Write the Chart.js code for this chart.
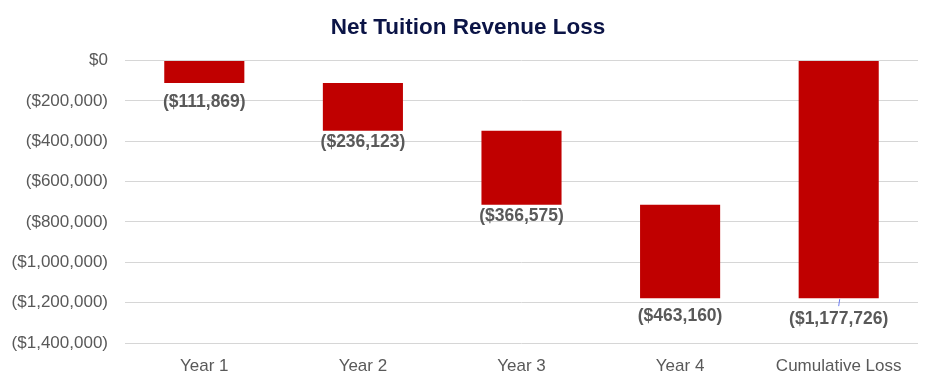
<!DOCTYPE html>
<html>
<head>
<meta charset="utf-8">
<script src="https://cdn.jsdelivr.net/npm/chart.js@4/dist/chart.umd.min.js"></script>
<style>
  html, body { margin: 0; padding: 0; background: #ffffff; }
  #wrap { width: 936px; height: 386px; position: relative; }
</style>
</head>
<body>
<div id="wrap"><canvas id="c"></canvas></div>
<script>
// ---- Data ----
const categories = ['Year 1', 'Year 2', 'Year 3', 'Year 4', 'Cumulative Loss'];
const yearlyLoss = [-111869, -236123, -366575, -463160];
const cumulativeLoss = -1177726;
const yTickMin = -1400000;
const yTickMax = 0;
const yTickStep = 200000;

// Build floating (waterfall) ranges from the values
const ranges = [];
const labelValues = [];
let running = 0;
yearlyLoss.forEach(v => {
  ranges.push([running, running + v]);
  labelValues.push(v);
  running += v;
});
ranges.push([0, cumulativeLoss]);
labelValues.push(cumulativeLoss);

function fmtMoney(v) {
  const s = '$' + Math.abs(Math.round(v)).toLocaleString('en-US');
  return v < 0 ? '(' + s + ')' : s;
}

const FONT = "'Liberation Sans', Arial, Helvetica, sans-serif";

const labelPlugin = {
  id: 'barLabels',
  afterDatasetsDraw(chart, args, opts) {
    const ctx = chart.ctx;
    const meta = chart.getDatasetMeta(0);
    ctx.save();
    ctx.font = 'bold 17.5px ' + FONT;
    ctx.fillStyle = '#595959';
    ctx.textAlign = 'center';
    ctx.textBaseline = 'middle';
    meta.data.forEach((bar, i) => {
      const bottom = Math.max(bar.y, bar.base);
      const off = opts.offsets[i];
      if (i === meta.data.length - 1) {
        ctx.strokeStyle = '#6b7cf0';
        ctx.lineWidth = 1;
        ctx.beginPath();
        ctx.moveTo(bar.x + 1, bottom + 1);
        ctx.lineTo(bar.x, bottom + 8);
        ctx.stroke();
      }
      ctx.fillText(fmtMoney(labelValues[i]), bar.x, bottom + off);
    });
    ctx.restore();
  }
};

new Chart(document.getElementById('c'), {
  type: 'bar',
  data: {
    labels: categories,
    datasets: [{
      data: ranges,
      backgroundColor: '#c00000',
      borderWidth: 0,
      barPercentage: 0.505,
      categoryPercentage: 1.0
    }]
  },
  options: {
    responsive: true,
    maintainAspectRatio: false,
    animation: false,
    layout: { padding: { left: 0, right: 0, top: 0, bottom: 0 } },
    plugins: {
      legend: { display: false },
      tooltip: { enabled: false },
      title: {
        display: true,
        text: 'Net Tuition Revenue Loss',
        color: '#0b1446',
        font: { family: FONT, size: 22.5, weight: 'bold' },
        padding: { top: 14, bottom: 19.5 }
      },
      barLabels: { offsets: [19, 11, 11, 18.5, 21] }
    },
    scales: {
      x: {
        grid: { display: false, drawTicks: false },
        border: { display: false },
        ticks: {
          color: '#595959',
          font: { family: FONT, size: 17 },
          padding: 13,
          maxRotation: 0,
          autoSkip: false
        },
        afterFit(scale) { scale.height = 43; }
      },
      y: {
        min: yTickMin,
        max: yTickMax,
        grid: { color: '#d6d6d6', lineWidth: 1, drawTicks: false },
        border: { display: false },
        ticks: {
          stepSize: yTickStep,
          color: '#595959',
          font: { family: FONT, size: 17 },
          padding: 17,
          autoSkip: false,
          callback: v => fmtMoney(v)
        },
        afterFit(scale) { scale.width = 125; }
      },
      yRightSpace: {
        position: 'right',
        min: yTickMin,
        max: yTickMax,
        grid: { display: false, drawTicks: false },
        border: { display: false },
        ticks: { display: false },
        afterFit(scale) { scale.width = 18; }
      }
    }
  },
  plugins: [labelPlugin]
});
</script>
</body>
</html>
